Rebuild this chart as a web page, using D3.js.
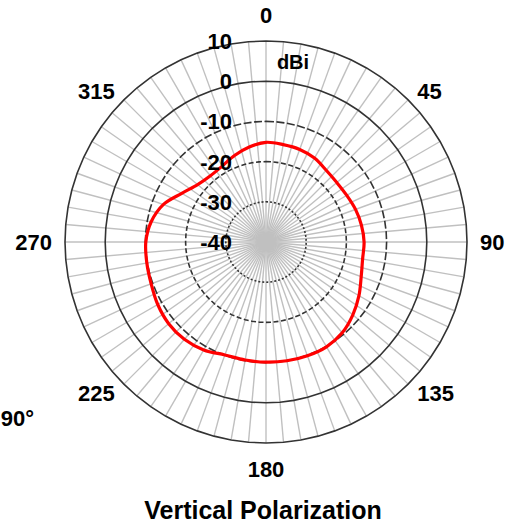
<!DOCTYPE html>
<html>
<head>
<meta charset="utf-8">
<script src="https://cdn.jsdelivr.net/npm/d3@7"></script>
<style>
  body { margin: 0; background: #fff; }
  text { font-family: "Liberation Sans", Arial, sans-serif; font-weight: bold; fill: #000; }
</style>
</head>
<body>
<svg id="chart" width="513" height="526"></svg>
<script>
// pattern, dBi every 10 degrees
const angles = d3.range(0, 360, 10)
const gainDbi = [
  -15.2, -15.4, -15.5, -15.9, -16.7, -17.0, -16.8, -16.3, -15.9,
  -15.6, -15.6, -14.8, -13.3, -11.8, -10.5, -9.9, -9.9, -10.0,
  -10.1, -10.2, -10.1, -9.0, -8.4, -8.4, -8.9, -9.6, -9.9,
  -10.1, -11.0, -12.8, -15.8, -17.8, -18.5, -18.2, -17.1, -16.0
]
const ringLevels = [10, 0, -10, -20, -30]
const ringDash = ['none', 'none', '8,2.5', '5,2.5', '2,2']
const angleLabels = [0, 45, 90, 135, 180, 225, 270, 315]
const spokeAngles = d3.range(0, 360, 5)

const CX = 266
const CY = 242
const R = 201

const svg = d3.select('#chart')
const g = svg.append('g').attr('transform', `translate(${CX},${CY})`)

const r = d3.scaleLinear().domain([-40, 10]).range([0, R])
const rad = d => (d * Math.PI) / 180

// spokes
g.append('g')
  .selectAll('line')
  .data(spokeAngles)
  .join('line')
  .attr('x1', 0)
  .attr('y1', 0)
  .attr('x2', d => R * Math.sin(rad(d)))
  .attr('y2', d => -R * Math.cos(rad(d)))
  .attr('stroke', '#c0c0c0')
  .attr('stroke-width', 1.4)

// rings are polygons through the spokes
const ringLine = lvl =>
  d3.lineRadial()
    .angle(d => rad(d))
    .radius(() => r(lvl))
    .curve(d3.curveLinearClosed)(spokeAngles)

g.append('g')
  .selectAll('path')
  .data(ringLevels)
  .join('path')
  .attr('d', d => ringLine(d))
  .attr('fill', 'none')
  .attr('stroke', '#333')
  .attr('stroke-width', 1.6)
  .attr('stroke-dasharray', (d, i) => ringDash[i])

// pattern
const pattern = d3.lineRadial()
  .angle((d, i) => rad(angles[i]))
  .radius(d => r(d))
  .curve(d3.curveCatmullRomClosed)

g.append('path')
  .attr('d', pattern(gainDbi))
  .attr('fill', 'none')
  .attr('stroke', '#ff0000')
  .attr('stroke-width', 3.2)

// radial labels
g.append('g')
  .selectAll('text')
  .data(ringLevels.concat([-40]))
  .join('text')
  .attr('x', -34)
  .attr('y', d => -r(d))
  .attr('dy', '0.36em')
  .attr('text-anchor', 'end')
  .attr('font-size', 22)
  .text(d => d)

g.append('text')
  .attr('x', 27)
  .attr('y', -173)
  .attr('text-anchor', 'middle')
  .attr('font-size', 20)
  .text('dBi')

// angle labels, side ones hang off the ring
const labelR = d => (d % 180 === 0 ? 227 : 214)
const anchor = d => {
  const s = Math.sin(rad(d))
  return s > 0.01 ? 'start' : s < -0.01 ? 'end' : 'middle'
}
g.append('g')
  .selectAll('text')
  .data(angleLabels)
  .join('text')
  .attr('x', d => labelR(d) * Math.sin(rad(d)))
  .attr('y', d => -labelR(d) * Math.cos(rad(d)))
  .attr('dy', '0.36em')
  .attr('text-anchor', d => anchor(d))
  .attr('font-size', 22)
  .text(d => d)

svg.append('text')
  .attr('x', 34)
  .attr('y', 426)
  .attr('text-anchor', 'end')
  .attr('font-size', 22)
  .text('90°')

svg.append('text')
  .attr('x', 263)
  .attr('y', 519)
  .attr('text-anchor', 'middle')
  .attr('font-size', 25)
  .text('Vertical Polarization')
</script>
</body>
</html>
